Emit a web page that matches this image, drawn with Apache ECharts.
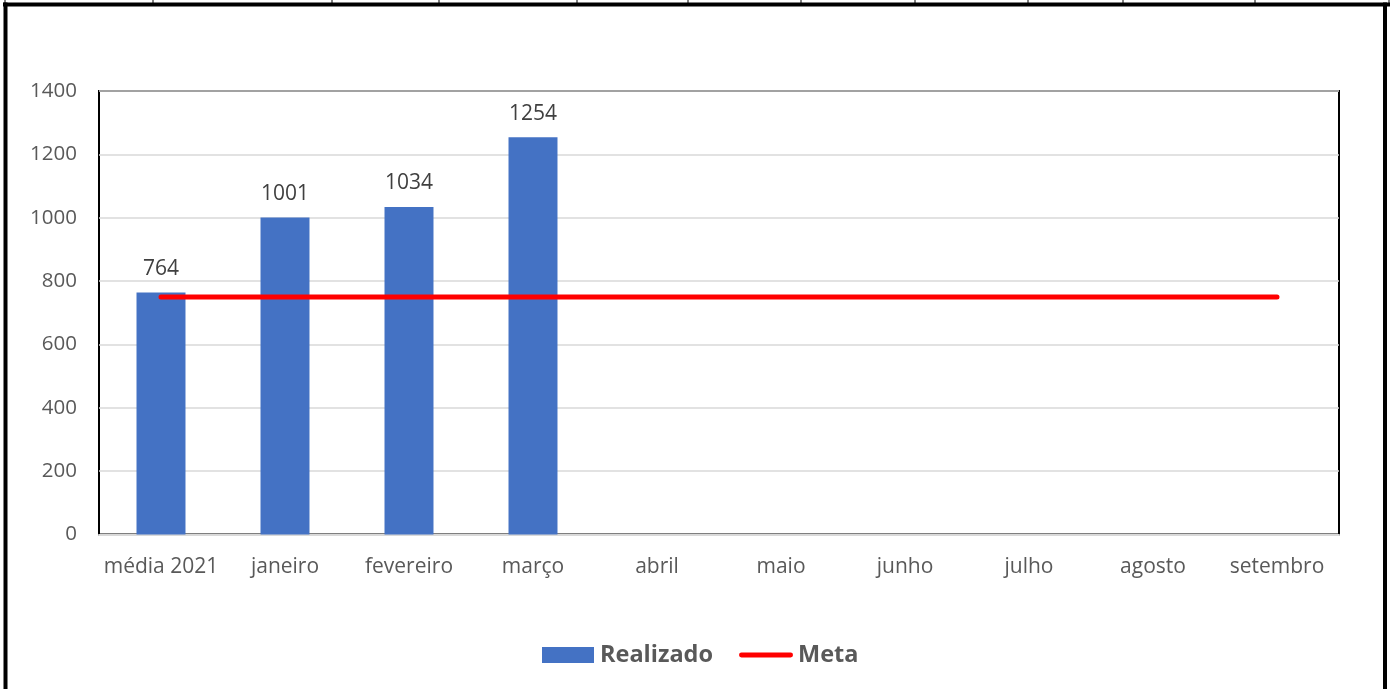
<!DOCTYPE html>
<html>
<head>
<meta charset="utf-8">
<script src="https://cdn.jsdelivr.net/npm/echarts@6/dist/echarts.min.js"></script>
<style>
  html, body { margin: 0; padding: 0; background: #fff; }
  #chart { width: 1397px; height: 689px; }
</style>
</head>
<body>
<div id="chart"></div>
<script>
// Monthly figures: achieved vs. target
const categories = ['média 2021', 'janeiro', 'fevereiro', 'março', 'abril', 'maio', 'junho', 'julho', 'agosto', 'setembro'];
const realizado = [764, 1001, 1034, 1254, null, null, null, null, null, null];
const meta = [750, 750, 750, 750, 750, 750, 750, 750, 750, 750];
const yTicks = { min: 0, max: 1400, interval: 200 };

const FONT = '"Open Sans", Lato, sans-serif';
const AXIS_TEXT = '#595959';

// spreadsheet cell borders peeking above the frame
const cellEdges = [5, 153, 332, 439, 577, 688, 801, 915, 1028, 1123, 1255, 1389];
const frame = [
  { type: 'rect', shape: { x: 3, y: 2.5, width: 1387, height: 4 }, style: { fill: '#000' } },
  { type: 'rect', shape: { x: 3.5, y: 2.5, width: 4, height: 700 }, style: { fill: '#000' } },
  { type: 'rect', shape: { x: 1383, y: 2.5, width: 4, height: 700 }, style: { fill: '#000' } }
].concat(cellEdges.map(x => ({
  type: 'line', shape: { x1: x, y1: 0, x2: x, y2: 3 }, style: { stroke: '#000', lineWidth: 1 }
})));

const chart = echarts.init(document.getElementById('chart'));
chart.setOption({
  animation: false,
  backgroundColor: '#fff',
  textStyle: { fontFamily: FONT },
  graphic: frame,
  grid: {
    left: 99, top: 91, width: 1240, height: 443.5,
    show: true, borderColor: '#000', borderWidth: 2, backgroundColor: 'transparent'
  },
  legend: {
    left: 542, top: 643, padding: 0,
    itemWidth: 54, itemHeight: 16, itemGap: 26,
    textStyle: { fontFamily: FONT, fontSize: 23.5, fontWeight: 'bold', color: AXIS_TEXT },
    data: [
      { name: 'Realizado', icon: 'path://M0,0 H52 V16 H0 Z' },
      { name: 'Meta', icon: 'path://M2.5,0 H53.5 A2.5,2.5 0 0 1 53.5,5 H2.5 A2.5,2.5 0 0 1 2.5,0 Z' }
    ]
  },
  xAxis: {
    type: 'category',
    data: categories,
    axisLine: { lineStyle: { color: '#d9d9d9', width: 2 } },
    axisTick: { show: false },
    axisLabel: { interval: 0, color: AXIS_TEXT, fontSize: 21, margin: 22, fontFamily: FONT }
  },
  yAxis: {
    type: 'value',
    min: yTicks.min, max: yTicks.max, interval: yTicks.interval,
    axisLine: { show: false },
    axisTick: { show: false },
    axisLabel: { color: AXIS_TEXT, fontSize: 20.5, margin: 22, fontFamily: FONT, formatter: v => String(v) },
    splitLine: { lineStyle: { color: '#d9d9d9', width: 1.5 } }
  },
  series: [
    {
      name: 'Realizado',
      type: 'bar',
      data: realizado,
      barCategoryGap: '60.5%',
      itemStyle: { color: '#4472C4' },
      label: {
        show: true, position: 'top', distance: 13,
        color: '#404040', fontSize: 21, fontFamily: FONT
      }
    },
    {
      name: 'Meta',
      type: 'line',
      data: meta,
      symbol: 'none',
      itemStyle: { color: '#FF0000' },
      lineStyle: { color: '#FF0000', width: 5, cap: 'round' },
      z: 3
    }
  ]
});
</script>
</body>
</html>
